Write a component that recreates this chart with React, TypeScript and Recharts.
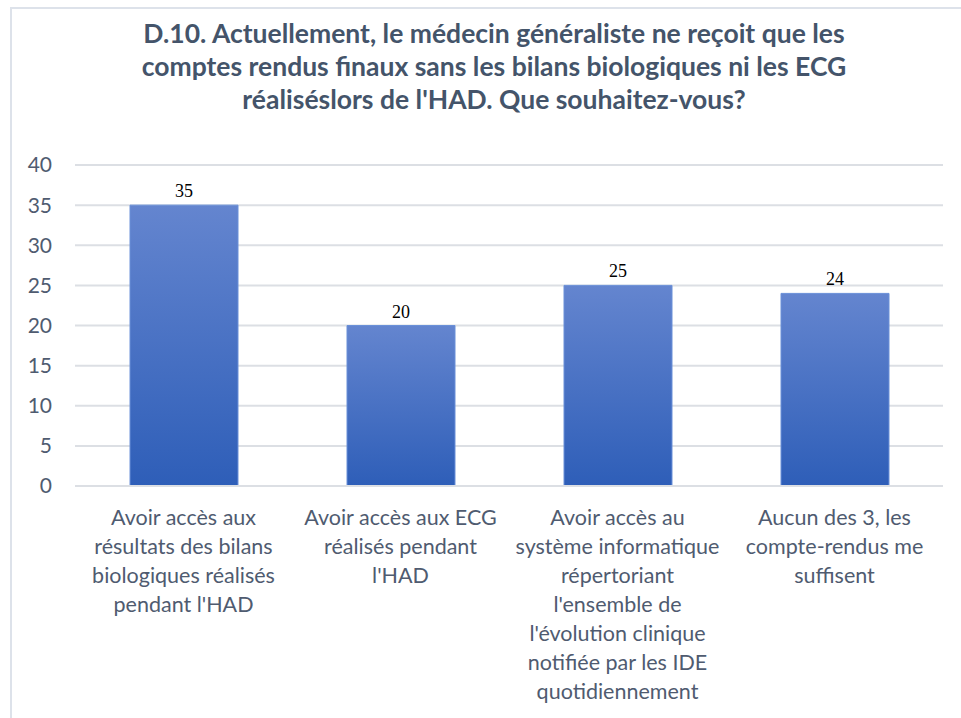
import React from "react";
import { BarChart, Bar, XAxis, YAxis, CartesianGrid, LabelList } from "recharts";

const categories = [
  "Avoir accès aux\nrésultats des bilans\nbiologiques réalisés\npendant l'HAD",
  "Avoir accès aux ECG\nréalisés pendant\nl'HAD",
  "Avoir accès au\nsystème informatique\nrépertoriant\nl'ensemble de\nl'évolution clinique\nnotifiée par les IDE\nquotidiennement",
  "Aucun des 3, les\ncompte-rendus me\nsuffisent",
];
const counts = [35, 20, 25, 24];
const yTicks = [0, 5, 10, 15, 20, 25, 30, 35, 40];
const titleLines = [
  "D.10. Actuellement, le médecin généraliste ne reçoit que les",
  "comptes rendus finaux sans les bilans biologiques ni les ECG",
  "réaliséslors de l'HAD. Que souhaitez-vous?",
];

const data = categories.map((name, i) => ({ name, value: counts[i] }));

const labelFont = "Lato, 'Open Sans', sans-serif";

function CategoryTick(props: any) {
  const { x, y, payload } = props;
  const lines = String(payload.value).split("\n");
  return (
    <text x={x} y={y} textAnchor="middle" fill="#4f5b70" fontSize={21.5} fontFamily={labelFont}>
      {lines.map((line, i) => (
        <tspan key={i} x={x} dy={i === 0 ? 39 : 29}>
          {line}
        </tspan>
      ))}
    </text>
  );
}

export default function App() {
  return (
    <div style={{ position: "absolute", left: 0, top: 0, width: 961, height: 718, background: "#fff", overflow: "hidden" }}>
      <div
        style={{
          position: "absolute",
          left: 10,
          top: 7,
          width: 980,
          height: 740,
          borderLeft: "2px solid #dde2ea",
          borderTop: "2px solid #dde2ea",
        }}
      />
      <div
        style={{
          position: "absolute",
          left: 0,
          top: 17,
          width: 988,
          textAlign: "center",
          fontFamily: labelFont,
          fontWeight: 700,
          fontSize: 26.5,
          lineHeight: "33px",
          color: "#44546a",
        }}
      >
        {titleLines.map((t, i) => (
          <div key={i}>{t}</div>
        ))}
      </div>
      <BarChart
        width={961}
        height={718}
        data={data}
        margin={{ top: 165, right: 18, left: 0, bottom: 0 }}
        barSize={108}
        style={{ position: "absolute", left: 0, top: 0 }}
      >
        <defs>
          <linearGradient id="barFill" x1="0" y1="0" x2="0" y2="1">
            <stop offset="0%" stopColor="#6485cf" />
            <stop offset="100%" stopColor="#2e5eb8" />
          </linearGradient>
        </defs>
        <CartesianGrid vertical={false} stroke="#dcdfe4" strokeWidth={2} />
        <XAxis
          dataKey="name"
          axisLine={{ stroke: "#dcdfe4", strokeWidth: 2 }}
          tickLine={false}
          tickSize={0}
          tickMargin={0}
          height={232}
          interval={0}
          tick={<CategoryTick />}
        />
        <YAxis
          domain={[0, 40]}
          ticks={yTicks}
          width={75}
          axisLine={false}
          tickLine={false}
          tickSize={0}
          tickMargin={23}
          tick={{ fill: "#4f5b70", fontSize: 21, fontFamily: labelFont }}
        />
        <Bar dataKey="value" fill="url(#barFill)" stroke="#6a90d8" strokeWidth={1} isAnimationActive={false}>
          <LabelList
            dataKey="value"
            position="top"
            offset={8}
            fill="#000"
            fontSize={18}
            fontFamily="'Liberation Serif', 'DejaVu Serif', serif"
          />
        </Bar>
      </BarChart>
    </div>
  );
}
